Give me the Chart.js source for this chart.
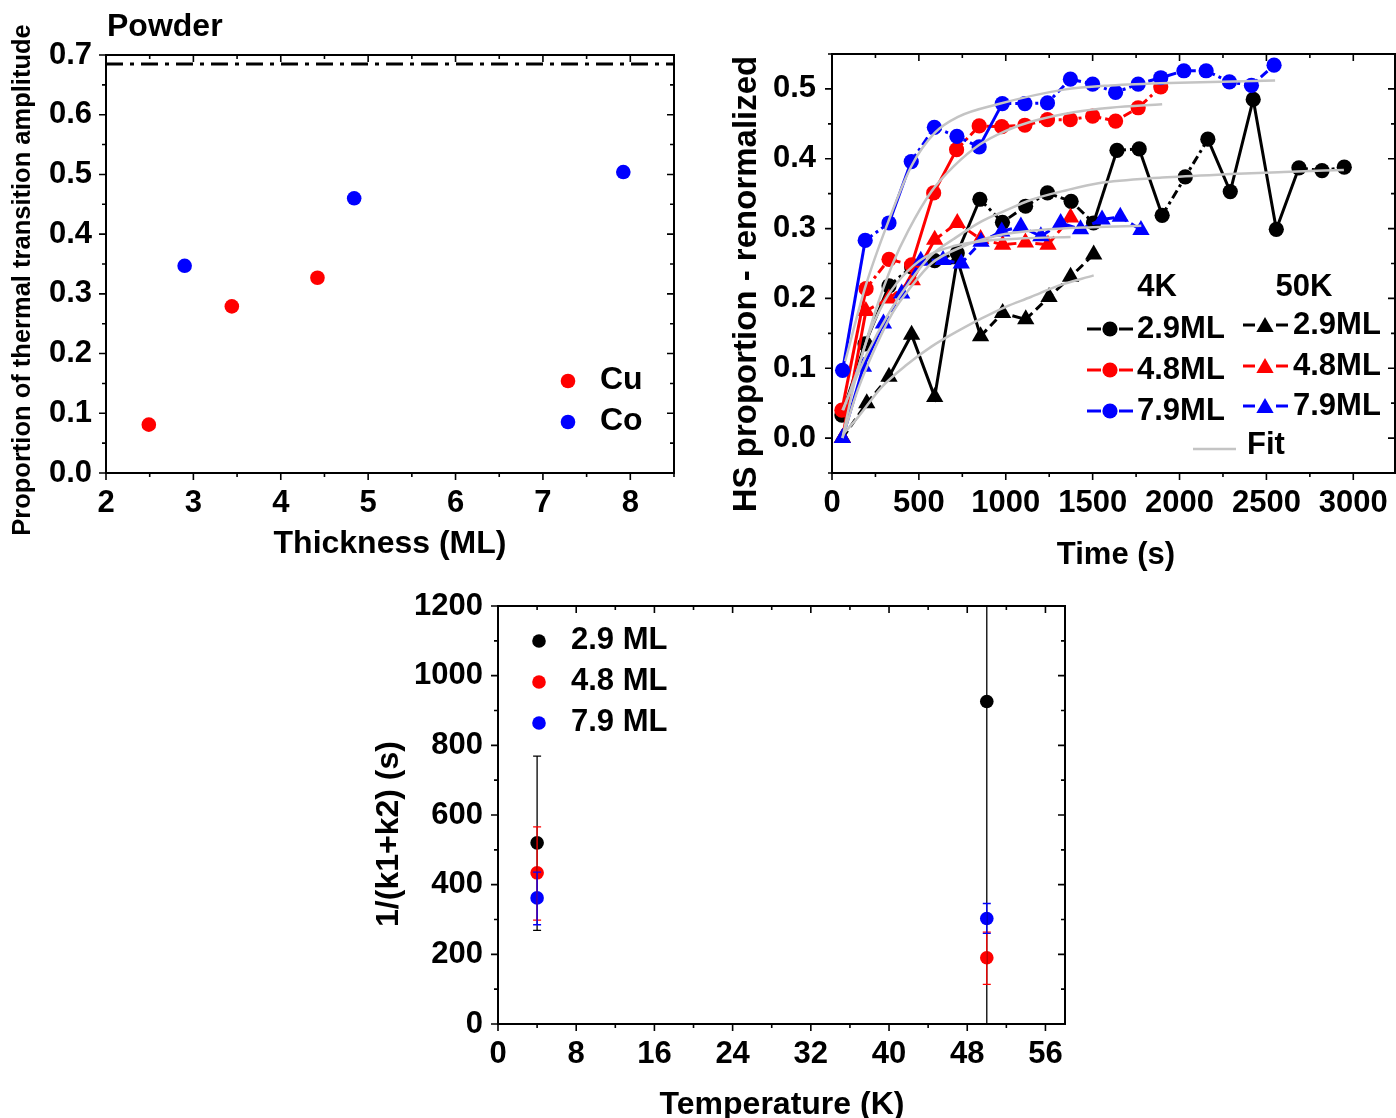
<!DOCTYPE html>
<html>
<head>
<meta charset="utf-8">
<script src="https://cdn.jsdelivr.net/npm/chart.js@4.4.1/dist/chart.umd.min.js"></script>
<style>
  html, body { margin: 0; padding: 0; background: #fff; width: 1396px; height: 1118px; overflow: hidden; }
  .panel { position: absolute; }
</style>
</head>
<body>
<div class="panel" id="p1" style="left:0px;top:0px;width:700px;height:580px"><canvas id="c1"></canvas></div>
<div class="panel" id="p2" style="left:715px;top:0px;width:690px;height:590px"><canvas id="c2"></canvas></div>
<div class="panel" id="p3" style="left:360px;top:585px;width:720px;height:533px"><canvas id="c3"></canvas></div>
<script>
const FONT = "'Liberation Sans', Arial, sans-serif";
const RED = '#ff0000', BLUE = '#0000ff', BLACK = '#000000', GRAY = '#c4c4c4';

// ---- panel 1: powder, amplitude vs thickness
const cuThickness = [2.49, 3.44, 4.42];
const cuAmplitude = [0.081, 0.279, 0.327];
const coThickness = [2.90, 4.84, 7.92];
const coAmplitude = [0.347, 0.460, 0.504];
const powderX = [2, 8.5];
const powderY = [0.685, 0.685];
const thicknessTicks = [2, 3, 4, 5, 6, 7, 8];
const amplitudeTicks = [0, 0.1, 0.2, 0.3, 0.4, 0.5, 0.6, 0.7];

// ---- panel 2: HS proportion vs time
const t4K29 = [57, 190, 328, 458, 591, 721, 851, 981, 1114, 1240, 1376, 1505, 1640, 1768, 1900, 2033, 2163, 2292, 2424, 2557, 2687, 2820, 2948];
const hs4K29 = [0.033, 0.135, 0.218, 0.245, 0.254, 0.265, 0.342, 0.309, 0.332, 0.351, 0.339, 0.308, 0.412, 0.414, 0.319, 0.374, 0.428, 0.353, 0.485, 0.299, 0.387, 0.383, 0.388];
const t4K48 = [57, 196, 328, 458, 585, 717, 847, 977, 1110, 1240, 1371, 1500, 1632, 1762, 1892];
const hs4K48 = [0.040, 0.214, 0.256, 0.248, 0.351, 0.413, 0.447, 0.446, 0.448, 0.456, 0.456, 0.461, 0.454, 0.473, 0.503];
const t4K79 = [61, 191, 328, 456, 589, 719, 847, 980, 1110, 1240, 1372, 1500, 1632, 1762, 1892, 2025, 2153, 2287, 2414, 2544];
const hs4K79 = [0.097, 0.283, 0.308, 0.396, 0.445, 0.432, 0.417, 0.479, 0.479, 0.480, 0.514, 0.507, 0.495, 0.507, 0.516, 0.526, 0.526, 0.510, 0.505, 0.534];
const t50K29 = [60, 200, 328, 458, 591, 721, 855, 982, 1115, 1249, 1373, 1506];
const hs50K29 = [0.0, 0.050, 0.088, 0.148, 0.059, 0.256, 0.146, 0.179, 0.170, 0.202, 0.231, 0.263];
const t50K48 = [60, 195, 328, 462, 591, 721, 855, 982, 1113, 1243, 1373];
const hs50K48 = [0.0, 0.182, 0.200, 0.226, 0.284, 0.308, 0.285, 0.277, 0.280, 0.277, 0.316];
const t50K79 = [60, 181, 296, 401, 511, 639, 744, 858, 977, 1087, 1202, 1316, 1430, 1554, 1659, 1778];
const hs50K79 = [0.0, 0.102, 0.164, 0.207, 0.254, 0.255, 0.250, 0.281, 0.296, 0.303, 0.289, 0.308, 0.299, 0.313, 0.317, 0.298];

// fit curves
const fitT4K29 = [60, 200, 330, 450, 572, 700, 858, 1000, 1144, 1350, 1533, 1900, 2295, 2600, 2946];
const fitY4K29 = [0.04, 0.12, 0.18, 0.225, 0.262, 0.285, 0.31, 0.326, 0.341, 0.355, 0.365, 0.373, 0.378, 0.381, 0.384];
const fitT4K48 = [65, 150, 250, 350, 439, 572, 700, 848, 1000, 1144, 1400, 1602, 1900];
const fitY4K48 = [0.04, 0.10, 0.182, 0.25, 0.297, 0.353, 0.389, 0.42, 0.44, 0.453, 0.467, 0.473, 0.478];
const fitT4K79 = [76, 190, 324, 458, 591, 725, 953, 1335, 1602, 2000, 2550];
const fitY4K79 = [0.11, 0.215, 0.31, 0.39, 0.437, 0.46, 0.478, 0.499, 0.505, 0.509, 0.512];
const fitT50K29 = [62, 150, 286, 430, 572, 715, 858, 1000, 1144, 1300, 1506];
const fitY50K29 = [0.005, 0.03, 0.073, 0.105, 0.131, 0.152, 0.171, 0.188, 0.202, 0.218, 0.233];
const fitT50K48 = [60, 130, 200, 300, 400, 534, 700, 900, 1100, 1373];
const fitY50K48 = [0.0, 0.08, 0.14, 0.195, 0.23, 0.259, 0.275, 0.283, 0.286, 0.288];
const fitT50K79 = [60, 150, 250, 350, 450, 572, 750, 954, 1200, 1500, 1780];
const fitY50K79 = [0.0, 0.07, 0.13, 0.18, 0.215, 0.25, 0.274, 0.29, 0.298, 0.302, 0.304];
const timeTicks = [0, 500, 1000, 1500, 2000, 2500, 3000];
const hsTicks = [0, 0.1, 0.2, 0.3, 0.4, 0.5];

// ---- panel 3: 1/(k1+k2) vs temperature
const temperature = [4, 50];
const rate29 = [520, 926];
const rate29Low = [269, -200];
const rate29High = [769, 2000];
const rate48 = [434, 190];
const rate48Low = [298, 114];
const rate48High = [566, 264];
const rate79 = [362, 303];
const rate79Low = [285, 260];
const rate79High = [436, 346];
const tempTicks = [0, 8, 16, 24, 32, 40, 48, 56];
const rateTicks = [0, 200, 400, 600, 800, 1000, 1200];

function pts(xs, ys) { return xs.map((x, i) => ({x: x, y: ys[i]})); }

function fixedTicks(values) {
  return scale => { scale.ticks = values.map(v => ({value: v})); };
}
function fixedBox(size) {
  return scale => {
    if (scale.isHorizontal()) scale.height = size; else scale.width = size;
    scale.paddingLeft = scale.paddingRight = scale.paddingTop = scale.paddingBottom = 0;
  };
}
function tickFont(size) { return {family: FONT, size: size, weight: 'bold'}; }

function axis(min, max, ticks, box, pad, fmt) {
  return {
    type: 'linear', min: min, max: max,
    grid: {display: false, drawTicks: false},
    border: {display: false},
    afterBuildTicks: fixedTicks(ticks),
    afterFit: fixedBox(box),
    ticks: {font: tickFont(31), color: '#000', padding: pad, autoSkip: false, maxRotation: 0, callback: fmt}
  };
}

function drawText(ctx, t, ox, oy) {
  ctx.save();
  ctx.font = 'bold ' + t.size + 'px ' + FONT;
  ctx.fillStyle = t.color || '#000';
  ctx.textAlign = t.align || 'center';
  ctx.textBaseline = 'middle';
  ctx.translate(t.x - ox, t.y - oy);
  if (t.rotate) ctx.rotate(-Math.PI / 2);
  ctx.fillText(t.text, 0, 0);
  ctx.restore();
}

function drawMarker(ctx, style, x, y, r, color) {
  ctx.fillStyle = color;
  ctx.beginPath();
  if (style === 'triangle') {
    for (let k = 0; k < 3; k++) {
      const a = k * 2 * Math.PI / 3;
      const px = x + Math.sin(a) * r, py = y - Math.cos(a) * r;
      if (k === 0) ctx.moveTo(px, py); else ctx.lineTo(px, py);
    }
    ctx.closePath();
  } else {
    ctx.arc(x, y, r, 0, 2 * Math.PI);
  }
  ctx.fill();
}

// frame, Origin-style ticks (out on left/bottom, in on top/right), titles and legends
const framePlugin = {
  id: 'frame',
  afterDraw(chart, args, opts) {
    const {ctx, chartArea: a} = chart;
    const xs = chart.scales.x, ys = chart.scales.y;
    const ox = opts.origin[0], oy = opts.origin[1];
    ctx.save();
    ctx.strokeStyle = '#000';
    ctx.lineWidth = 1.6;
    ctx.beginPath();
    const isMajor = (scale, v, step) => scale.ticks.some(t => Math.abs(t.value - v) < step / 10);
    for (let n = Math.ceil(xs.min / opts.xMinor - 1e-9); n * opts.xMinor <= xs.max + 1e-9; n++) {
      const v = n * opts.xMinor, px = xs.getPixelForValue(v);
      const len = isMajor(xs, v, opts.xMinor) ? 7 : 4;
      ctx.moveTo(px, a.bottom); ctx.lineTo(px, a.bottom + len);
      ctx.moveTo(px, a.top); ctx.lineTo(px, a.top + len);
    }
    for (let n = Math.ceil(ys.min / opts.yMinor - 1e-9); n * opts.yMinor <= ys.max + 1e-9; n++) {
      const v = n * opts.yMinor, py = ys.getPixelForValue(v);
      const len = isMajor(ys, v, opts.yMinor) ? 7 : 4;
      ctx.moveTo(a.left - len, py); ctx.lineTo(a.left, py);
      ctx.moveTo(a.right - len, py); ctx.lineTo(a.right, py);
    }
    ctx.stroke();
    ctx.lineWidth = 2;
    ctx.strokeRect(a.left, a.top, a.right - a.left, a.bottom - a.top);

    (opts.lines || []).forEach(l => {
      ctx.strokeStyle = l.color;
      ctx.lineWidth = l.width || 3;
      ctx.setLineDash([]);
      ctx.beginPath();
      ctx.moveTo(l.x0 - ox, l.y - oy);
      ctx.lineTo(l.x1 - ox, l.y - oy);
      ctx.stroke();
    });
    (opts.markers || []).forEach(m => drawMarker(ctx, m.style, m.x - ox, m.y - oy, m.r, m.color));
    (opts.texts || []).forEach(t => drawText(ctx, t, ox, oy));
    ctx.restore();
  }
};

// error bars from dataset arrays, drawn through the scales
const errorBarPlugin = {
  id: 'errorBars',
  afterDatasetsDraw(chart) {
    const {ctx, chartArea: a} = chart;
    const xs = chart.scales.x, ys = chart.scales.y;
    ctx.save();
    ctx.beginPath();
    ctx.rect(a.left, a.top, a.right - a.left, a.bottom - a.top);
    ctx.clip();
    ctx.lineWidth = 1.3;
    chart.data.datasets.forEach(ds => {
      ctx.strokeStyle = ds.backgroundColor;
      ds.data.forEach((p, i) => {
        const px = xs.getPixelForValue(p.x);
        const top = ys.getPixelForValue(ds.errHigh[i]);
        const bot = ys.getPixelForValue(ds.errLow[i]);
        ctx.beginPath();
        ctx.moveTo(px, top); ctx.lineTo(px, bot);
        ctx.moveTo(px - 4, top); ctx.lineTo(px + 4, top);
        ctx.moveTo(px - 4, bot); ctx.lineTo(px + 4, bot);
        ctx.stroke();
      });
    });
    ctx.restore();
  }
};

const base = {
  responsive: true,
  maintainAspectRatio: false,
  animation: false,
  events: []
};

// ---------------- panel 1
new Chart(document.getElementById('c1'), {
  type: 'scatter',
  data: {
    datasets: [
      {label: 'Cu', data: pts(cuThickness, cuAmplitude), backgroundColor: RED, pointRadius: 7.3, borderWidth: 0},
      {label: 'Co', data: pts(coThickness, coAmplitude), backgroundColor: BLUE, pointRadius: 7.3, borderWidth: 0},
      {label: 'Powder', type: 'line', data: pts(powderX, powderY), borderColor: BLACK, borderWidth: 3,
       borderDash: [17, 7, 4, 7], pointRadius: 0}
    ]
  },
  options: Object.assign({}, base, {
    layout: {padding: {top: 55, right: 26, left: 0, bottom: 0}},
    plugins: {
      legend: {display: false}, tooltip: {enabled: false},
      frame: {
        origin: [0, 0], xMinor: 0.5, yMinor: 0.05,
        markers: [
          {style: 'circle', x: 568, y: 381, r: 7.3, color: RED},
          {style: 'circle', x: 568, y: 422, r: 7.3, color: BLUE}
        ],
        texts: [
          {text: 'Powder', x: 107, y: 27, size: 32, align: 'left'},
          {text: 'Proportion of thermal transition amplitude', x: 23, y: 280, size: 25.5, rotate: true},
          {text: 'Thickness (ML)', x: 390, y: 544, size: 32},
          {text: 'Cu', x: 600, y: 380, size: 32, align: 'left'},
          {text: 'Co', x: 600, y: 421, size: 32, align: 'left'}
        ]
      }
    },
    scales: {
      x: axis(2, 8.5, thicknessTicks, 107, 12, v => String(v)),
      y: axis(0, 0.7, amplitudeTicks, 106, 14, v => v.toFixed(1))
    }
  }),
  plugins: [framePlugin]
});

// ---------------- panel 2
function segDash(pattern) {
  return {
    borderDash: c => Math.hypot(c.p1.x - c.p0.x, c.p1.y - c.p0.y) > 45 ? [] : pattern
  };
}
const dashDot = [9, 4, 3, 4];
const dashOnly = [9, 5];
function series(xs, ys, color, style, order) {
  const tri = style === 'triangle';
  return {
    data: pts(xs, ys), borderColor: color, backgroundColor: color, borderWidth: 3,
    pointStyle: style, pointRadius: tri ? 10 : 7.6, pointBorderWidth: 0,
    segment: segDash(tri ? dashOnly : dashDot), order: order
  };
}
function fit(xs, ys) {
  return {data: pts(xs, ys), borderColor: GRAY, borderWidth: 2.5, pointRadius: 0,
          cubicInterpolationMode: 'monotone', order: 0};
}
new Chart(document.getElementById('c2'), {
  type: 'line',
  data: {
    datasets: [
      series(t4K29, hs4K29, BLACK, 'circle', 6),
      series(t4K48, hs4K48, RED, 'circle', 5),
      series(t4K79, hs4K79, BLUE, 'circle', 4),
      series(t50K29, hs50K29, BLACK, 'triangle', 3),
      series(t50K48, hs50K48, RED, 'triangle', 2),
      series(t50K79, hs50K79, BLUE, 'triangle', 1),
      fit(fitT4K29, fitY4K29), fit(fitT4K48, fitY4K48), fit(fitT4K79, fitY4K79),
      fit(fitT50K29, fitY50K29), fit(fitT50K48, fitY50K48), fit(fitT50K79, fitY50K79)
    ]
  },
  options: Object.assign({}, base, {
    layout: {padding: {top: 54, right: 7, left: 0, bottom: 0}},
    plugins: {
      legend: {display: false}, tooltip: {enabled: false},
      frame: {
        origin: [715, 0], xMinor: 250, yMinor: 0.05,
        lines: [
          {x0: 1087, x1: 1101, y: 329, color: BLACK}, {x0: 1119, x1: 1133, y: 329, color: BLACK},
          {x0: 1087, x1: 1101, y: 370, color: RED}, {x0: 1119, x1: 1133, y: 370, color: RED},
          {x0: 1087, x1: 1101, y: 411, color: BLUE}, {x0: 1119, x1: 1133, y: 411, color: BLUE},
          {x0: 1243, x1: 1255, y: 325, color: BLACK}, {x0: 1276, x1: 1288, y: 325, color: BLACK},
          {x0: 1243, x1: 1255, y: 366, color: RED}, {x0: 1276, x1: 1288, y: 366, color: RED},
          {x0: 1243, x1: 1255, y: 406, color: BLUE}, {x0: 1276, x1: 1288, y: 406, color: BLUE},
          {x0: 1193, x1: 1236, y: 449, color: GRAY, width: 2.5}
        ],
        markers: [
          {style: 'circle', x: 1110, y: 329, r: 7.6, color: BLACK},
          {style: 'circle', x: 1110, y: 370, r: 7.6, color: RED},
          {style: 'circle', x: 1110, y: 411, r: 7.6, color: BLUE},
          {style: 'triangle', x: 1265, y: 327, r: 10, color: BLACK},
          {style: 'triangle', x: 1265, y: 368, r: 10, color: RED},
          {style: 'triangle', x: 1265, y: 408, r: 10, color: BLUE}
        ],
        texts: [
          {text: 'HS proportion - renormalized', x: 747, y: 284, size: 33, rotate: true},
          {text: 'Time (s)', x: 1116, y: 555, size: 31},
          {text: '4K', x: 1157, y: 287, size: 31},
          {text: '50K', x: 1304, y: 287, size: 31},
          {text: '2.9ML', x: 1137, y: 329, size: 31, align: 'left'},
          {text: '4.8ML', x: 1137, y: 370, size: 31, align: 'left'},
          {text: '7.9ML', x: 1137, y: 411, size: 31, align: 'left'},
          {text: '2.9ML', x: 1293, y: 325, size: 31, align: 'left'},
          {text: '4.8ML', x: 1293, y: 366, size: 31, align: 'left'},
          {text: '7.9ML', x: 1293, y: 406, size: 31, align: 'left'},
          {text: 'Fit', x: 1247, y: 445, size: 31, align: 'left'}
        ]
      }
    },
    scales: {
      x: axis(0, 3240, timeTicks, 117, 12, v => String(v)),
      y: axis(-0.05, 0.55, hsTicks, 117, 16, v => v.toFixed(1))
    }
  }),
  plugins: [framePlugin]
});

// ---------------- panel 3
function rateSet(label, ys, lo, hi, color) {
  return {label: label, data: pts(temperature, ys), backgroundColor: color, pointRadius: 6.8,
          borderWidth: 0, errLow: lo, errHigh: hi};
}
new Chart(document.getElementById('c3'), {
  type: 'scatter',
  data: {
    datasets: [
      rateSet('2.9 ML', rate29, rate29Low, rate29High, BLACK),
      rateSet('4.8 ML', rate48, rate48Low, rate48High, RED),
      rateSet('7.9 ML', rate79, rate79Low, rate79High, BLUE)
    ]
  },
  options: Object.assign({}, base, {
    layout: {padding: {top: 21, right: 15, left: 0, bottom: 0}},
    plugins: {
      legend: {display: false}, tooltip: {enabled: false},
      frame: {
        origin: [360, 585], xMinor: 4, yMinor: 100,
        markers: [
          {style: 'circle', x: 539, y: 641, r: 6.8, color: BLACK},
          {style: 'circle', x: 539, y: 682, r: 6.8, color: RED},
          {style: 'circle', x: 539, y: 723, r: 6.8, color: BLUE}
        ],
        texts: [
          {text: '1/(k1+k2) (s)', x: 389, y: 834, size: 32, rotate: true},
          {text: 'Temperature (K)', x: 782, y: 1105, size: 32},
          {text: '2.9 ML', x: 571, y: 640, size: 31, align: 'left'},
          {text: '4.8 ML', x: 571, y: 681, size: 31, align: 'left'},
          {text: '7.9 ML', x: 571, y: 722, size: 31, align: 'left'}
        ]
      }
    },
    scales: {
      x: axis(0, 58, tempTicks, 94, 12, v => String(v)),
      y: axis(0, 1200, rateTicks, 138, 15, v => String(v))
    }
  }),
  plugins: [errorBarPlugin, framePlugin]
});
</script>
</body>
</html>
